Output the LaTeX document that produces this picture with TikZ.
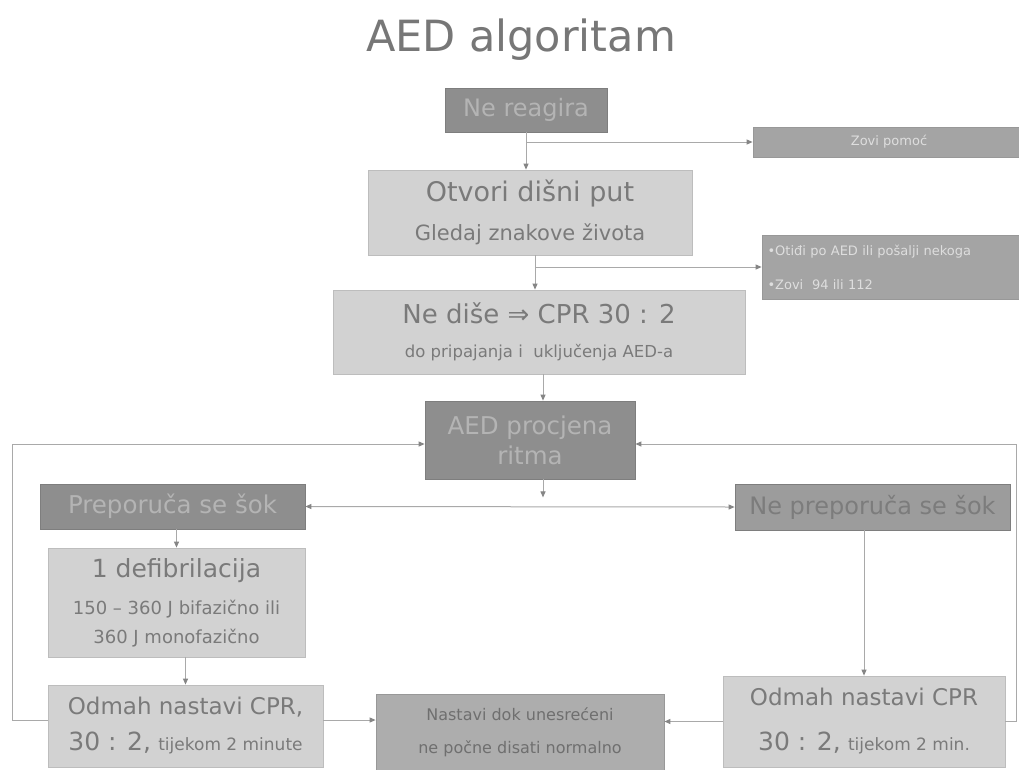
\documentclass[tikz,border=0pt]{standalone}
\usepackage{fontspec}
\setmainfont{DejaVu Sans}
\usetikzlibrary{arrows.meta,positioning}

\definecolor{titlegray}{HTML}{777777}
\definecolor{darkfill}{HTML}{8E8E8E}
\definecolor{darkline}{HTML}{7E7E7E}
\definecolor{darktext}{HTML}{B4B4B4}
\definecolor{midfill}{HTML}{A4A4A4}
\definecolor{midtext}{HTML}{DEDEDE}
\definecolor{shadefill}{HTML}{9C9C9C}
\definecolor{shadetext}{HTML}{7C7C7C}
\definecolor{softfill}{HTML}{ADADAD}
\definecolor{softtext}{HTML}{6F6F6F}
\definecolor{lightfill}{HTML}{D2D2D2}
\definecolor{lightline}{HTML}{BDBDBD}
\definecolor{lighttext}{HTML}{7A7A7A}
\definecolor{linegray}{HTML}{A9A9A9}
\definecolor{tipgray}{HTML}{858585}

\newcommand{\fsz}[2]{\fontsize{#1}{#2}\selectfont}

\begin{document}
\begin{tikzpicture}[
    x=1pt, y=-1pt,
    box/.style={draw, line width=0.8pt, inner sep=0pt, align=center},
    darkbox/.style={box, draw=darkline, fill=darkfill, text=darktext},
    midbox/.style={box, draw=darkline!80, fill=midfill, text=midtext},
    lightbox/.style={box, draw=lightline, fill=lightfill, text=lighttext},
    arrow/.style={draw=linegray, line width=1pt,
        -{Triangle[length=6pt,width=5pt,color=tipgray]}},
    twoway/.style={arrow,
        {Triangle[length=6pt,width=5pt,color=tipgray]}-{Triangle[length=6pt,width=5pt,color=tipgray]}}
]
\clip (0,0) rectangle (1019,769);
\fill[white] (0,0) rectangle (1019,769);

% Title
\node (title) [text=titlegray, font=\fsz{43}{50}] at (521,40) {AED algoritam};

% Nodes
\node (reagira) [darkbox, minimum width=162pt, minimum height=44pt, font=\fsz{24}{28}]
    at (526,110) {Ne reagira};
\node (zovi) [midbox, minimum width=272pt, minimum height=30pt, font=\fsz{13}{16}]
    at (889,142) {Zovi pomoć};
\node (otvori) [lightbox, minimum width=324pt, minimum height=85pt]
    at (530,212.5) {{\fsz{27}{32}Otvori dišni put}\\[15pt]{\fsz{21}{25}Gledaj znakove života}};
\node (otidi) [midbox, minimum width=263pt, minimum height=64pt, align=left, text width=252pt,
    font=\fsz{13}{16}]
    at (893.5,267) {•Otiđi po AED ili pošalji nekoga\\[18pt]•Zovi~ 94 ili 112};
\node (nedise) [lightbox, minimum width=412pt, minimum height=84pt]
    at (539,332) {{\fsz{26}{31}Ne diše ⇒ CPR 30 : 2}\\[19pt]{\fsz{16.5}{20}do pripajanja i~ uključenja AED-a}};
\node (aed) [darkbox, minimum width=210pt, minimum height=78pt, font=\fsz{24.5}{30}]
    at (530,440) {AED procjena\\ritma};
\node (prep) [darkbox, minimum width=265pt, minimum height=45pt, font=\fsz{24.5}{28}]
    at (172.5,506.5) {Preporuča se šok};
\node (neprep) [box, draw=darkline, fill=shadefill, text=shadetext,
    minimum width=275pt, minimum height=46pt, font=\fsz{24}{28}]
    at (872.5,507) {Ne preporuča se šok};
\node (defib) [lightbox, minimum width=257pt, minimum height=109pt, font=\fsz{18}{22}]
    at (176.5,602.5) {{\fsz{25}{30}1 defibrilacija}\\[15pt]150 – 360 J bifazično ili\\[7pt]360 J monofazično};
\node (odmahL) [lightbox, minimum width=275pt, minimum height=82pt, font=\fsz{23}{28}]
    at (185.5,726) {Odmah nastavi CPR,\\[8pt]{\fsz{25}{28}30 : 2,} {\fsz{17}{20}tijekom 2 minute}};
\node (nastavi) [box, draw=darkline!80, fill=softfill, text=softtext,
    minimum width=288pt, minimum height=76pt, font=\fsz{16}{20}]
    at (520,732) {Nastavi dok unesrećeni\\[13pt]ne počne disati normalno};
\node (odmahR) [lightbox, minimum width=282pt, minimum height=91pt, font=\fsz{23}{28}]
    at (864,721.5) {Odmah nastavi CPR\\[17pt]{\fsz{25}{28}30 : 2,} {\fsz{17}{20}tijekom 2 min.}};

\coordinate (lloop) at (12,0);
\coordinate (rloop) at (1016,0);

% Arrows
\draw[arrow] (reagira.south) -- (reagira.south |- otvori.north);
\draw[arrow] (reagira.south |- zovi.west) -- (zovi.west);
\draw[arrow] ([xshift=5pt]otvori.south) -- ([xshift=5pt]otvori.south |- nedise.north);
\draw[arrow] ([xshift=5pt]otvori.south |- otidi.west) -- (otidi.west);
\draw[arrow] ([xshift=4pt]nedise.south) -- ([xshift=4pt]nedise.south |- aed.north);
\draw[arrow] ([xshift=13pt]aed.south) -- ++(0,18);
\draw[twoway] (prep.east) -- (neprep.west);
\draw[arrow] (prep.south -| defib.north) -- (defib.north);
\draw[arrow] (defib.south -| odmahL.north) -- (odmahL.north);
\draw[arrow] (neprep.south -| odmahR.north) -- (odmahR.north);
\draw[arrow] ([yshift=6pt]odmahL.west) -- ([yshift=6pt]odmahL.west -| lloop)
    |- ([yshift=-4pt]aed.west);
\draw[arrow] ([yshift=6pt]odmahL.east) -- ([yshift=6pt]odmahL.east -| nastavi.west);
\draw[arrow] (odmahR.west) -- (odmahR.west -| nastavi.east);
\draw[arrow] (odmahR.east) -- (odmahR.east -| rloop) |- ([yshift=-4pt]aed.east);

\end{tikzpicture}
\end{document}
